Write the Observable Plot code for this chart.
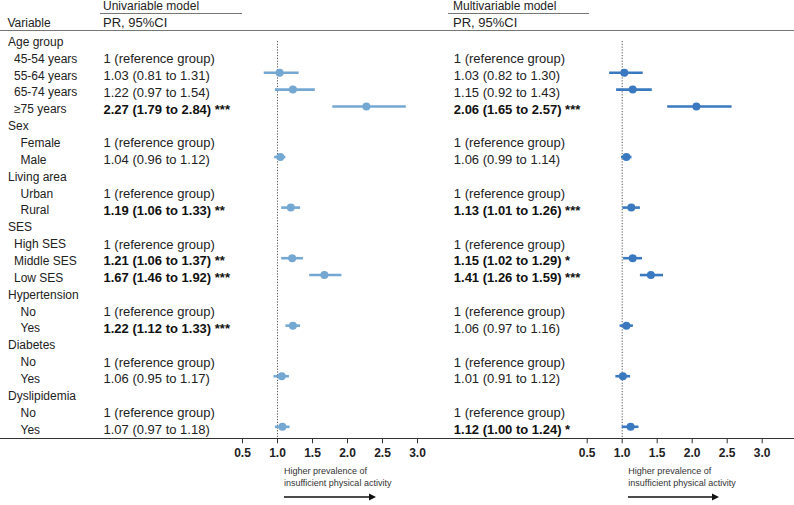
<!DOCTYPE html>
<html>
<head>
<meta charset="utf-8">
<script src="https://cdn.jsdelivr.net/npm/d3@7"></script>
<script src="https://cdn.jsdelivr.net/npm/@observablehq/plot@0.6"></script>
<style>
  body { margin: 0; background: #fff; }
  #fig { position: relative; width: 794px; height: 505px; overflow: hidden;
         font-family: "Liberation Sans", Arial, Helvetica, sans-serif; color: #222; }
  #fig .abs { position: absolute; white-space: nowrap; line-height: 12px; }
  #fig .rule { position: absolute; height: 0; }
  #fig svg.panel { position: absolute; top: 0; }
  #fig .note { font-size: 9px; line-height: 12px; color: #333; }
</style>
</head>
<body>
<div id="fig"></div>
<script>
// Variables and their levels (first level of each is the reference group)
const groups = ["Age group", "Sex", "Living area", "SES", "Hypertension", "Diabetes", "Dyslipidemia"];
const levels = [
  ["45-54 years", "55-64 years", "65-74 years", "≥75 years"],
  ["Female", "Male"],
  ["Urban", "Rural"],
  ["High SES", "Middle SES", "Low SES"],
  ["No", "Yes"],
  ["No", "Yes"],
  ["No", "Yes"]
];

// Prevalence ratios with 95% CI, one entry per level (null = reference group)
const uniPR  = [null, 1.03, 1.22, 2.27, null, 1.04, null, 1.19, null, 1.21, 1.67, null, 1.22, null, 1.06, null, 1.07];
const uniLo  = [null, 0.81, 0.97, 1.79, null, 0.96, null, 1.06, null, 1.06, 1.46, null, 1.12, null, 0.95, null, 0.97];
const uniHi  = [null, 1.31, 1.54, 2.84, null, 1.12, null, 1.33, null, 1.37, 1.92, null, 1.33, null, 1.17, null, 1.18];
const uniSig = ["", "", "", "***", "", "", "", "**", "", "**", "***", "", "***", "", "", "", ""];

const multiPR  = [null, 1.03, 1.15, 2.06, null, 1.06, null, 1.13, null, 1.15, 1.41, null, 1.06, null, 1.01, null, 1.12];
const multiLo  = [null, 0.82, 0.92, 1.65, null, 0.99, null, 1.01, null, 1.02, 1.26, null, 0.97, null, 0.91, null, 1.00];
const multiHi  = [null, 1.30, 1.43, 2.57, null, 1.14, null, 1.26, null, 1.29, 1.59, null, 1.16, null, 1.12, null, 1.24];
const multiSig = ["", "", "", "***", "", "", "", "***", "", "*", "***", "", "", "", "", "", "*"];

const xTicks = [0.5, 1.0, 1.5, 2.0, 2.5, 3.0];

// Build the table rows: a header row per variable followed by its levels
const rows = [];
let k = 0;
groups.forEach((g, gi) => {
  rows.push({id: rows.length, label: g, header: true, group: g});
  levels[gi].forEach(l => { rows.push({id: rows.length, label: l, header: false, group: g, k}); k++; });
});
const levelRows = rows.filter(d => !d.header);

const fmt = v => v.toFixed(2);
const FONT = '"Liberation Sans", Arial, Helvetica, sans-serif';

function panel({pr, lo, hi, sig, color, width, xRange, valueDx, withLabels}) {
  const recs = levelRows.map(r => ({
    id: r.id,
    pr: pr[r.k], lo: lo[r.k], hi: hi[r.k], sig: sig[r.k],
    text: pr[r.k] == null ? "1 (reference group)"
      : `${fmt(pr[r.k])} (${fmt(lo[r.k])} to ${fmt(hi[r.k])})` + (sig[r.k] ? " " + sig[r.k] : "")
  }));
  const est = recs.filter(d => d.pr != null);
  const marks = [
    Plot.ruleX([1], {stroke: "#555", strokeWidth: 1, strokeDasharray: "1.2,1.6", insetTop: 10}),
    Plot.text(recs.filter(d => !d.sig), {y: "id", text: "text", frameAnchor: "left", textAnchor: "start",
      dx: valueDx, dy: 3, fontSize: 13, fill: "#222"}),
    Plot.text(recs.filter(d => d.sig), {y: "id", text: "text", frameAnchor: "left", textAnchor: "start",
      dx: valueDx, dy: 3, fontSize: 13, fontWeight: "bold", fill: "#111"}),
    Plot.ruleY(est, {y: "id", x1: "lo", x2: "hi", stroke: color, strokeWidth: 2.6}),
    Plot.dot(est, {x: "pr", y: "id", r: 4, fill: color}),
    Plot.axisX({ticks: xTicks, tickFormat: d => d.toFixed(1), tickSize: 5, tickPadding: 4.5,
      fontSize: 12, fontWeight: "bold", label: null, stroke: "#333", fill: "#222"})
  ];
  if (withLabels) {
    const deep = new Set(["Age group", "SES"]);
    marks.push(
      Plot.text(rows.filter(d => d.header), {y: "id", text: "label", frameAnchor: "left", textAnchor: "start",
        dx: 7.5, dy: 3, fontSize: 12, fill: "#222"}),
      Plot.text(levelRows.filter(d => deep.has(d.group)), {y: "id", text: "label", frameAnchor: "left",
        textAnchor: "start", dx: 13.5, dy: 3, fontSize: 12, fill: "#222"}),
      Plot.text(levelRows.filter(d => !deep.has(d.group)), {y: "id", text: "label", frameAnchor: "left",
        textAnchor: "start", dx: 20, dy: 3, fontSize: 12, fill: "#222"})
    );
  }
  // one row per table line, evenly spaced from the first to the last
  const svg = Plot.plot({
    width, height: 505,
    marginLeft: 0, marginRight: 0, marginTop: 31, marginBottom: 66.7,
    style: {fontFamily: FONT, fontSize: "12px", color: "#222", background: "transparent", overflow: "visible"},
    x: {domain: [0.5, 3], range: xRange},
    y: {type: "linear", domain: [0, rows.length - 1], range: [38.5, 426.3], axis: null},
    marks
  });
  svg.classList.add("panel");
  return svg;
}

const fig = document.getElementById("fig");

const left = panel({pr: uniPR, lo: uniLo, hi: uniHi, sig: uniSig, color: "#74a8d3",
  width: 440, xRange: [242, 417], valueDx: 103, withLabels: true});
left.style.left = "0px";
fig.appendChild(left);

const right = panel({pr: multiPR, lo: multiLo, hi: multiHi, sig: multiSig, color: "#3a79bf",
  width: 354, xRange: [146.7, 321.7], valueDx: 13.3, withLabels: false});
right.style.left = "440px";
fig.appendChild(right);

// Table headers, rules and direction notes
function add(html, css, cls = "abs") {
  const el = document.createElement("div");
  el.className = cls;
  el.innerHTML = html;
  Object.assign(el.style, css);
  fig.appendChild(el);
}
add("Univariable model", {left: "103px", top: "0px", fontSize: "12px", lineHeight: "13px"});
add("Multivariable model", {left: "453px", top: "0px", fontSize: "12px", lineHeight: "13px"});
add("", {left: "100px", top: "12.5px", width: "142px", borderTop: "1.5px solid #777"}, "rule");
add("", {left: "447.7px", top: "12.5px", width: "141.6px", borderTop: "1.5px solid #777"}, "rule");
add("Variable", {left: "7.5px", top: "17px", fontSize: "12px"});
add("PR, 95%CI", {left: "103px", top: "17px", fontSize: "13px"});
add("PR, 95%CI", {left: "453px", top: "17px", fontSize: "13px"});
add("", {left: "0px", top: "30px", width: "794px", borderTop: "1.5px solid #777"}, "rule");
add("", {left: "0px", top: "437.6px", width: "794px", borderTop: "1.4px solid #333"}, "rule");

const arrowSvg = w => `<svg width="${w}" height="8" style="display:block;margin-top:4px">
  <line x1="0" y1="4" x2="${w - 6}" y2="4" stroke="#111" stroke-width="1.4"/>
  <polygon points="${w - 7},0.5 ${w},4 ${w - 7},7.5" fill="#111"/></svg>`;
add("Higher prevalence of<br>insufficient physical activity" + arrowSvg(92),
  {left: "284px", top: "464.5px"}, "abs note");
add("Higher prevalence of<br>insufficient physical activity" + arrowSvg(91),
  {left: "628.3px", top: "464.5px"}, "abs note");
</script>
</body>
</html>
